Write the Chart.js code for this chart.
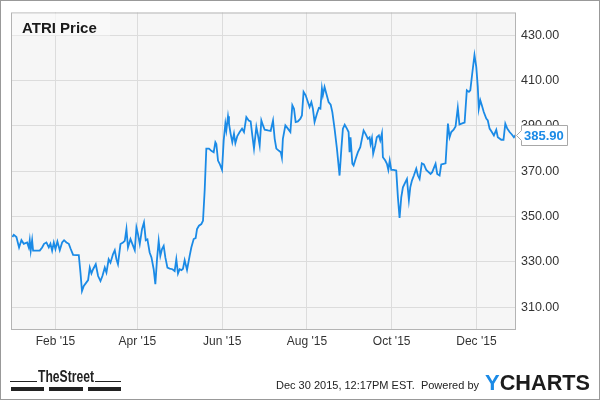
<!DOCTYPE html>
<html><head><meta charset="utf-8">
<script src="https://cdn.jsdelivr.net/npm/chart.js"></script>
<style>html,body{margin:0;padding:0;background:#fff}#wrap{width:600px;height:400px}</style>
</head><body><div id="wrap"><canvas id="c" width="600" height="400"></canvas></div>
<script>
// Days since Jan 1 2015 (trading days)
const days = [0,1.0,2.9,4.8,6.5,8.2,10.6,11.8,12.5,13.2,
14.2,14.9,17.3,19.7,21.4,22.8,24.5,26.2,27.4,28.6,
29.8,31.0,32.4,34.1,35.8,37.2,38.9,40.6,42.0,43.7,
46.1,47.8,49.0,50.1,51.4,53.3,54.5,55.7,56.9,58.1,
60.0,61.7,63.4,64.8,66.5,67.7,69.3,70.6,72.4,73.7,
74.9,76.0,77.8,79.6,80.9,82.1,83.2,85.0,86.4,88.1,
89.3,90.4,91.7,93.3,94.7,96.0,97.2,98.8,100.1,101.7,
102.9,104.1,105.3,106.5,107.7,108.9,110.1,111.6,113.2,115.2,
116.8,118.0,119.2,120.4,121.7,122.8,124.0,125.7,127.6,128.8,
130.5,131.9,132.9,134.3,136.0,137.2,138.4,139.6,141.5,143.2,
144.9,146.1,146.8,148.0,149.2,150.9,152.1,153.3,154.0,155.2,
155.9,157.1,158.3,159.5,160.5,161.9,163.6,165.3,166.7,168.4,
170.1,171.5,172.7,173.9,175.6,176.8,178.0,179.2,180.4,181.6,
184.0,185.9,187.6,188.8,190.0,191.9,193.2,194.0,194.7,196.5,
198.3,200.1,201.5,202.7,203.9,205.5,207.3,208.4,209.6,211.1,
212.7,213.9,215.2,216.3,217.5,219.2,220.6,221.7,222.8,223.5,
224.7,226.0,227.6,229.1,230.3,231.9,233.6,235.5,236.8,237.9,
239.2,240.8,242.0,242.7,243.4,244.7,245.6,247.1,248.7,250.4,
251.6,252.8,254.2,255.9,257.1,257.8,258.8,259.7,261.2,262.3,
263.8,264.8,266.0,266.7,268.4,269.6,270.6,271.6,272.7,274.4,
276.3,277.5,278.7,279.9,281.1,282.8,284.0,285.4,286.4,287.6,
289.0,290.7,291.9,293.1,294.7,296.2,297.9,299.6,301.0,302.2,
303.4,304.6,305.8,307.5,308.7,310.3,311.8,312.7,313.5,314.7,
315.9,317.6,319.0,320.6,321.8,324.2,325.5,327.1,328.6,329.6,
331.0,332.6,333.9,335.0,335.7,336.8,337.9,339.3,341.1,342.2,
343.5,345.1,346.6,348.3,349.4,351.9,353.5,354.8,356.2,357.9,
359.5,361.0,362.2];

const prices = [341,342,341,336.4,339.6,338,338.6,336.4,339.6,335,
339.6,335,335,335,336.4,338,338.6,336.4,338,335,
338.6,335.7,339,335.2,338.6,339.6,338.6,338,335.7,333.1,
333,333,325.3,317.2,319.4,321,322,327.5,324.9,326.8,
329,323.8,321.6,323.8,327.5,325.3,331.2,329.7,333.4,335.2,
331.2,329,337.9,338.6,339.3,344.5,336.4,340.1,337.9,335.2,
345.2,342.3,337.9,344.5,347.4,339.6,340,334.2,332,326.8,
320.2,331.2,339.3,332.7,335.7,337.1,332,327.5,327.1,326.8,
326,331.2,324.9,326.8,326.4,327,330.8,326.5,332.7,336.4,
340.1,340.5,344.5,346,346.7,348.2,361.5,380,380,379,
378.4,382.8,382,374.7,373.3,370.6,383.6,391,388,394.2,
391,386.5,382.8,386.5,382.4,385.5,387.3,388.8,387.3,393.9,
392.4,392,385.8,380,389.5,385.8,381.4,392.4,390.2,388.3,
388,387.8,392.4,384.3,380,379,378.4,376,384.3,390.2,
388.8,387.3,399.1,397.6,391.7,392,393.2,394.6,405,403.5,
400.5,398.3,400.5,397.6,391.7,395.4,397.9,397.6,406.5,403.5,
407.2,404.2,400.5,399.4,396.1,388.8,380,368.1,380,388.8,
390.5,388.8,387.3,378.4,385,373.3,372.5,375.5,378.4,380.6,
384.3,388,386.5,384.3,385,382,384.6,377.7,381.4,385,
385.8,383.6,386.8,376.2,374.7,373.3,370.6,374.7,370.6,370.6,
370.3,358.5,349.4,358.5,362.9,365.1,366.6,357.3,362.9,365.9,
368.1,371.1,368.1,366.6,373.5,373,370.6,369.6,368.8,369.6,
371.5,373.3,368.8,368.1,373,373.3,373.5,382.8,391,385,
387.3,388.3,389.8,398,390.6,391.2,391.5,405.7,405,405.7,
413.1,421.2,416,407.2,397.6,401.3,399.1,396.1,393.2,392.4,
388.8,387.3,385.8,388.3,385,383.9,383.9,391,388.8,387.3,
386.2,385,385.9];

const xTickDays = [31, 90, 151, 212, 273, 334];
const xTickLabels = ["Feb '15", "Apr '15", "Jun '15", "Aug '15", "Oct '15", "Dec '15"];
const yTickValues = [310, 330, 350, 370, 390, 410, 430];
const lastPrice = 385.90;
const chartTitle = "ATRI Price";
const footerText = "Dec 30 2015, 12:17PM EST.  Powered by";

const BLUE = '#1a8ae6';
const FONT = "'Liberation Sans', Arial, sans-serif";

const decor = {
  id: 'decor',
  beforeDraw(chart) {
    const ctx = chart.ctx, a = chart.chartArea;
    ctx.save();
    ctx.fillStyle = '#ffffff';
    ctx.fillRect(0, 0, chart.width, chart.height);
    ctx.fillStyle = '#f6f6f6';
    ctx.fillRect(a.left, a.top, a.right - a.left, a.bottom - a.top);
    ctx.restore();
  },
  afterDraw(chart) {
    const ctx = chart.ctx, a = chart.chartArea;
    ctx.save();
    // plot border
    ctx.strokeStyle = '#b4b4b4';
    ctx.lineWidth = 1;
    ctx.strokeRect(a.left + 0.5, a.top + 0.5, a.right - a.left - 1, a.bottom - a.top - 1);
    // outer frame
    ctx.strokeStyle = '#999999';
    ctx.strokeRect(0.5, 0.5, chart.width - 1, chart.height - 1);
    // title box
    ctx.fillStyle = 'rgba(250,250,250,0.75)';
    ctx.fillRect(a.left + 1, a.top + 1, 98, 22);
    ctx.fillStyle = '#1a1a1a';
    ctx.font = "bold 15px " + FONT;
    ctx.textBaseline = 'alphabetic';
    ctx.textAlign = 'left';
    ctx.fillText(chartTitle, a.left + 11, a.top + 20);
    // last value label
    const ys = Math.round(chart.scales.y.getPixelForValue(lastPrice)) + 0.5;
    const xr = a.right;
    ctx.beginPath();
    ctx.moveTo(xr + 0.5, ys);
    ctx.lineTo(xr + 5.5, ys - 5);
    ctx.lineTo(xr + 5.5, ys - 10);
    ctx.lineTo(xr + 51.5, ys - 10);
    ctx.lineTo(xr + 51.5, ys + 10);
    ctx.lineTo(xr + 5.5, ys + 10);
    ctx.lineTo(xr + 5.5, ys + 5);
    ctx.closePath();
    ctx.fillStyle = '#ffffff';
    ctx.fill();
    ctx.strokeStyle = '#a8a8a8';
    ctx.stroke();
    ctx.fillStyle = BLUE;
    ctx.font = "bold 13px " + FONT;
    ctx.textBaseline = 'middle';
    ctx.fillText(lastPrice.toFixed(2), xr + 8, ys + 1);
    // TheStreet logo
    ctx.fillStyle = '#222';
    ctx.font = "bold 17px " + FONT;
    ctx.textBaseline = 'alphabetic';
    ctx.fillText('TheStreet', 38, 382, 56);
    ctx.fillRect(10, 381, 27, 1);
    ctx.fillRect(95, 381, 26, 1);
    ctx.fillRect(11, 387, 33, 4);
    ctx.fillRect(49, 387, 34, 4);
    ctx.fillRect(88, 387, 33, 4);
    // footer text
    ctx.fillStyle = '#222';
    ctx.font = "11px " + FONT;
    ctx.fillText(footerText, 276, 389);
    // YCHARTS
    ctx.font = "bold 22px " + FONT;
    ctx.fillStyle = BLUE;
    ctx.fillText('Y', 485, 390);
    const wy = ctx.measureText('Y').width;
    ctx.fillStyle = '#1c1c1c';
    ctx.fillText('CHARTS', 485 + wy, 390, 105 - wy);
    ctx.restore();
  }
};

new Chart(document.getElementById('c'), {
  type: 'line',
  data: {
    datasets: [{
      data: days.map((d, i) => ({ x: d, y: prices[i] })),
      borderColor: BLUE,
      borderWidth: 1.8,
      pointRadius: 0,
      tension: 0,
      fill: false
    }]
  },
  options: {
    responsive: false,
    devicePixelRatio: 1,
    animation: false,
    layout: { padding: { left: 11, top: 12, right: 0, bottom: 50 } },
    plugins: { legend: { display: false }, tooltip: { enabled: false }, title: { display: false } },
    scales: {
      x: {
        type: 'linear',
        min: -1,
        max: 362.5,
        afterBuildTicks(scale) { scale.ticks = xTickDays.map(v => ({ value: v })); },
        afterFit(scale) { scale.height = 20; },
        ticks: {
          autoSkip: false, maxRotation: 0, padding: 4,
          color: '#333', font: { family: FONT, size: 12 },
          callback: (v, i) => xTickLabels[i]
        },
        grid: { color: '#dcdcdc', drawTicks: false, lineWidth: 1 },
        border: { display: false }
      },
      y: {
        type: 'linear',
        position: 'right',
        min: 300,
        max: 440,
        afterBuildTicks(scale) { scale.ticks = yTickValues.map(v => ({ value: v })); },
        afterFit(scale) { scale.width = 84; },
        ticks: {
          padding: 5, color: '#333', font: { family: FONT, size: 12.5 },
          callback: v => Number(v).toFixed(2)
        },
        grid: { color: '#dcdcdc', drawTicks: false, lineWidth: 1 },
        border: { display: false }
      }
    }
  },
  plugins: [decor]
});
</script>
</body></html>
